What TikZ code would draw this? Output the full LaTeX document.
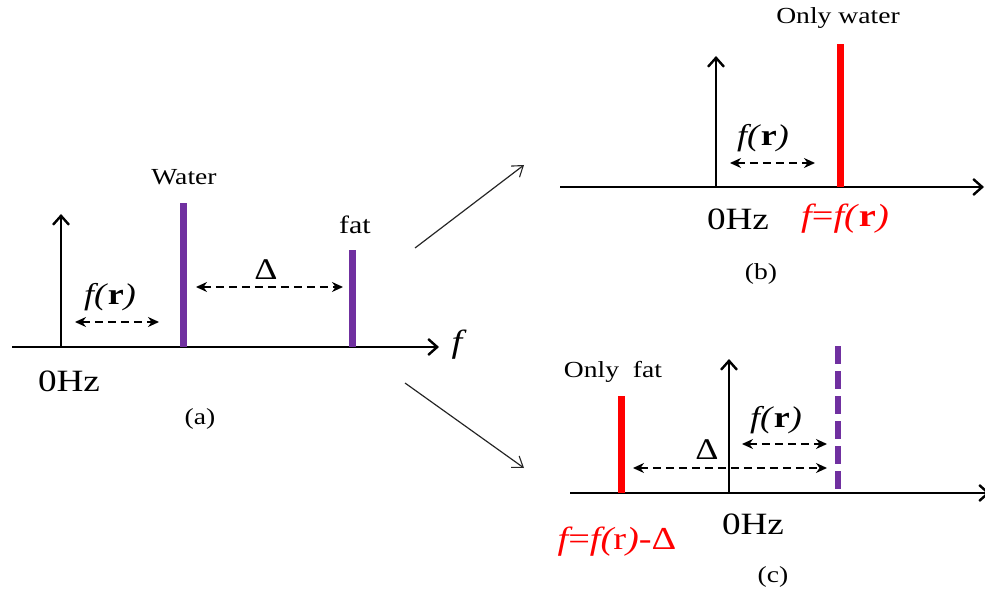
\documentclass[tikz,border=0pt]{standalone}
\usepackage{fontspec}
\setmainfont{Liberation Serif}[FakeStretch=1.2]
\usetikzlibrary{arrows.meta}
\definecolor{pur}{HTML}{7030A0}
\definecolor{rd}{HTML}{FF0000}
\newcommand{\fr}{{\itshape f(}\textbf{r}{\itshape )}}
\begin{document}
\begin{tikzpicture}[x=1pt,y=-1pt,
  axis/.style={line width=2.8pt,-{Straight Barb[length=9pt,width=16pt,line width=2.4pt]}},
  peak/.style={line width=7pt},
  dim/.style={line width=1.7pt,dash pattern=on 8pt off 5pt,{Stealth[length=11pt,width=10pt]}-{Stealth[length=11pt,width=10pt]}},
  link/.style={line width=1.2pt,gray!30!black,-{Straight Barb[length=10pt,width=14pt,line width=1.1pt]}},
  big/.style={font=\fontsize{31}{35}\selectfont,inner sep=0pt},
  redl/.style={font=\fontsize{32}{36}\selectfont,inner sep=0pt,rd},
  mid/.style={font=\fontsize{30}{34}\selectfont,inner sep=0pt},
  small/.style={font=\fontsize{23}{27}\selectfont,inner sep=0pt}
]
\useasboundingbox (0,0) rectangle (985,596);
% ---------- panel (a) ----------
\coordinate (aL) at (12,347);
\coordinate (aR) at (439,347);
\coordinate (aO) at (61,347);
\coordinate (aT) at (61,214);
\draw[axis] (aL) -- (aR);
\draw[axis] (aO) -- (aT);
\coordinate (wB) at (183,347); \coordinate (wT) at (183,203);
\coordinate (fB) at (352,347); \coordinate (fT) at (352,250);
\draw[peak,pur] (wB) -- (wT);
\draw[peak,pur] (fB) -- (fT);
\node[small] (water) at (184,177) {Water};
\node[small,font=\fontsize{25}{29}\selectfont] (fat) at (355,225) {fat};
\node[big,font=\fontsize{32}{36}\selectfont\itshape] (fax) at (457,345) {f};
\coordinate (a1) at (75,322); \coordinate (a2) at (159,322);
\draw[dim] (a1) -- (a2);
\node[mid] (afr) at (110,297) {\fr};
\coordinate (a3) at (196,287); \coordinate (a4) at (343,287);
\draw[dim] (a3) -- (a4);
\node[mid] (adel) at (266,270) {Δ};
\node[big] (a0) at (69,381) {0Hz};
\node[small] (acap) at (200,419) {(a)};
% ---------- links ----------
\coordinate (l1s) at (415,248); \coordinate (l1e) at (524,165);
\coordinate (l2s) at (405,383); \coordinate (l2e) at (524,468);
\draw[link] (l1s) -- (l1e);
\draw[link] (l2s) -- (l2e);
% ---------- panel (b) ----------
\coordinate (bL) at (560,187);
\coordinate (bR) at (984,187);
\coordinate (bO) at (716,187);
\coordinate (bT) at (716,56);
\draw[axis] (bL) -- (bR);
\draw[axis] (bO) -- (bT);
\coordinate (bwB) at (840,187); \coordinate (bwT) at (840,44);
\draw[peak,rd] (bwB) -- (bwT);
\node[small] (bonly) at (838,18) {Only water};
\coordinate (b1) at (730,163); \coordinate (b2) at (815,163);
\draw[dim] (b1) -- (b2);
\node[mid] (bfr) at (763,138) {\fr};
\node[big] (b0) at (738,219) {0Hz};
\node[redl] (bf) at (845,219) {{\itshape f}={\itshape f(}\textbf{r}{\itshape )}};
\node[small] (bcap) at (761,274) {(b)};
% ---------- panel (c) ----------
\coordinate (cL) at (570,493);
\coordinate (cR) at (990,493);
\coordinate (cO) at (729,493);
\coordinate (cT) at (729,359);
\draw[axis] (cL) -- (cR);
\draw[axis] (cO) -- (cT);
\coordinate (cfB) at (621,493); \coordinate (cfT) at (621,396);
\draw[peak,rd] (cfB) -- (cfT);
\coordinate (cwB) at (838,493); \coordinate (cwT) at (838,346);
\draw[peak,pur,line width=6pt,dash pattern=on 18pt off 7pt] (cwT) -- (cwB);
\node[small] (conly) at (613,372) {Only\ \ fat};
\coordinate (c1) at (742,444); \coordinate (c2) at (827,444);
\draw[dim] (c1) -- (c2);
\node[mid] (cfr) at (776,420) {\fr};
\coordinate (c3) at (633,468); \coordinate (c4) at (827,468);
\draw[dim] (c3) -- (c4);
\node[mid] (cdel) at (707,450) {Δ};
\node[big] (c0) at (753,524) {0Hz};
\node[redl] (cf) at (617,542) {{\itshape f}={\itshape f(}r{\itshape )}-Δ};
\node[small] (ccap) at (773,577) {(c)};
\end{tikzpicture}
\end{document}
